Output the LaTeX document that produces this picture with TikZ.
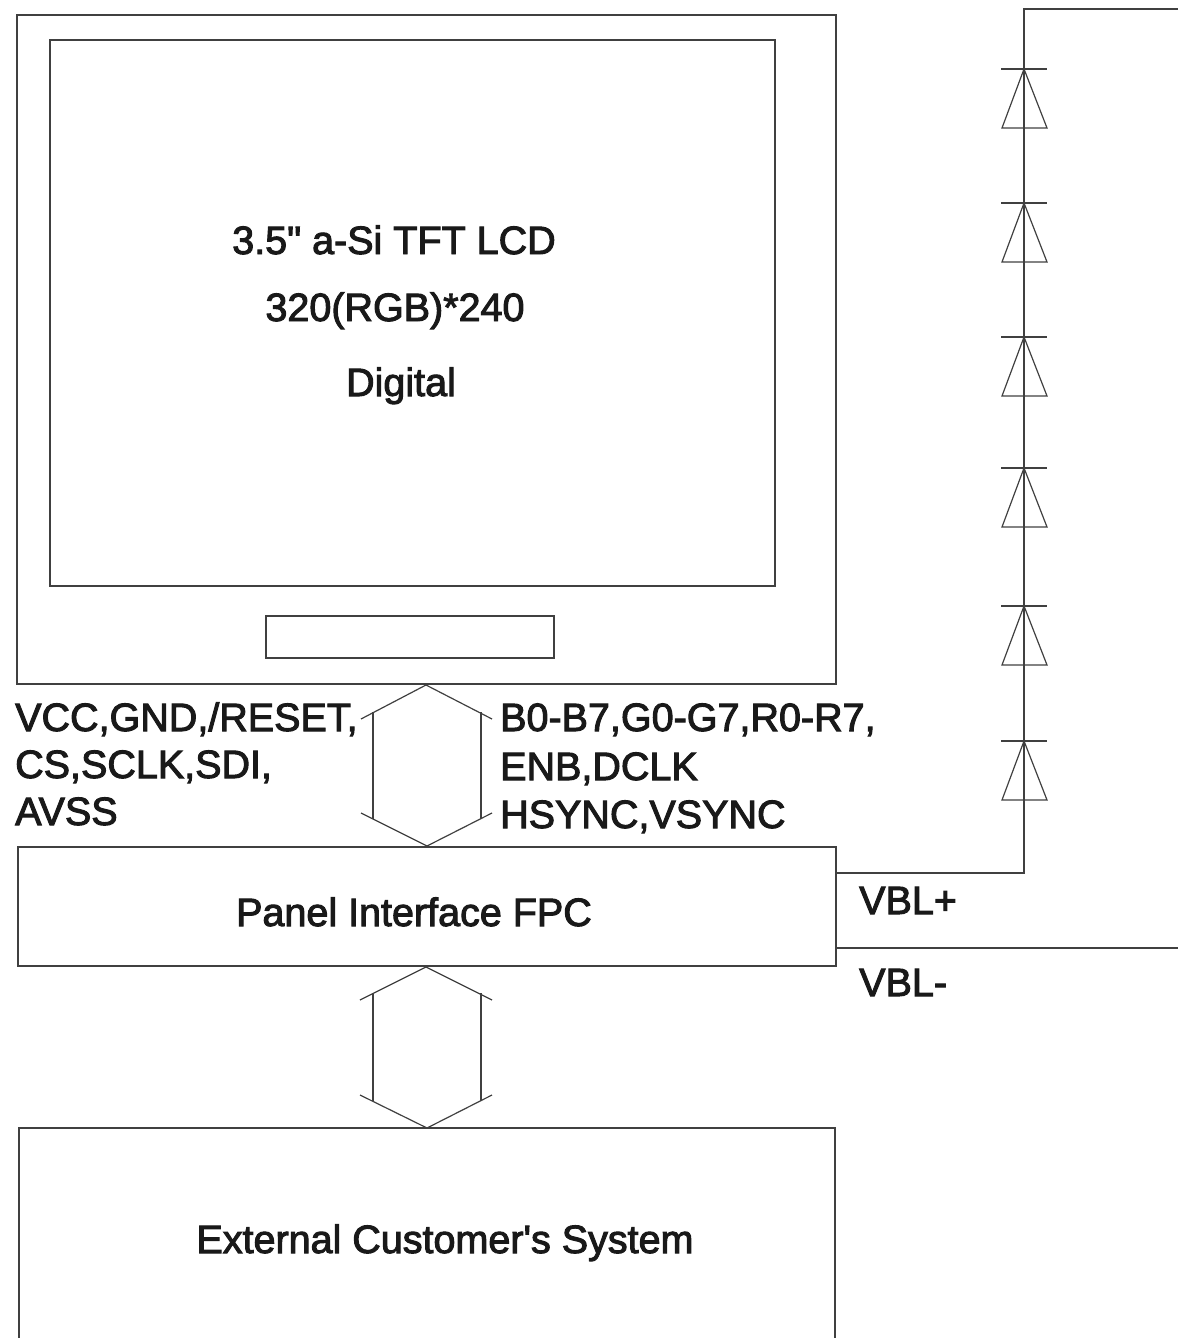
\documentclass[tikz,border=0pt]{standalone}
\usepackage{fontspec}
\newfontfamily\blockfont[FakeBold=2.5]{Liberation Sans}
\tikzset{
  blockbox/.style={draw=black!75,line width=1.2pt,inner sep=0pt},
  wire/.style={draw=black!75,line width=1.2pt},
  label/.style={inner sep=0pt,anchor=base west,font=\blockfont\fontsize{39.5}{39.5}\selectfont,text=black!90},
  title/.style={inner sep=0pt,anchor=base,font=\blockfont\fontsize{39.5}{39.5}\selectfont,text=black!90}
}
\begin{document}
\begin{tikzpicture}[x=1pt,y=-1pt]
    \useasboundingbox (0,0) rectangle (1178,1338);
    % blocks
    \node[blockbox,minimum width=819pt,minimum height=669pt] (LCD) at (426.5,349.5) {};
    \node[blockbox,minimum width=725pt,minimum height=546pt] (AA) at (412.5,313) {};
    \node[blockbox,minimum width=288pt,minimum height=42pt] (IC) at (410,637) {};
    \node[blockbox,minimum width=818pt,minimum height=119pt] (FPC) at (427,906.5) {};
    \node[blockbox,minimum width=816pt,minimum height=224pt] (SYS) at (427,1240) {};
    % texts
    \node[title] (T1) at (394,254) {3.5" a-Si TFT LCD};
    \node[title] (T2) at (395,321) {320(RGB)*240};
    \node[title] (T3) at (401,396) {Digital};
    \node[title] (TF) at (414,926) {Panel Interface FPC};
    \node[title] (TS) at (445,1253) {External Customer's System};
    \node[label] (L1) at (15,731) {VCC,GND,/RESET,};
    \node[label] (L2) at (15,778) {CS,SCLK,SDI,};
    \node[label] (L3) at (15,825) {AVSS};
    \node[label] (R1) at (500,731) {B0-B7,G0-G7,R0-R7,};
    \node[label] (R2) at (500,780) {ENB,DCLK};
    \node[label] (R3) at (500,828) {HSYNC,VSYNC};
    \node[label] (VP) at (859,914) {VBL+};
    \node[label] (VM) at (859,996) {VBL-};
    % upper bus
    \coordinate (A1) at (426,685);
    \coordinate (A2) at (361,719);
    \coordinate (A3) at (492,719);
    \coordinate (A4) at (373,712);
    \coordinate (A5) at (481,712);
    \coordinate (A6) at (361,813);
    \coordinate (A7) at (492,813);
    \coordinate (A8) at (373,819);
    \coordinate (A9) at (481,819);
    \coordinate (A10) at (427,846);
    \draw[wire] (A2) -- (A1) -- (A3);
    \draw[wire] (A4) -- (A8);
    \draw[wire] (A5) -- (A9);
    \draw[wire] (A6) -- (A10) -- (A7);
    % lower bus
    \coordinate (B1) at (426,967);
    \coordinate (B2) at (360,1000);
    \coordinate (B3) at (492,1000);
    \coordinate (B4) at (373,993);
    \coordinate (B5) at (481,993);
    \coordinate (B6) at (360,1095);
    \coordinate (B7) at (492,1095);
    \coordinate (B8) at (373,1101);
    \coordinate (B9) at (481,1101);
    \coordinate (B10) at (427,1128);
    \draw[wire] (B2) -- (B1) -- (B3);
    \draw[wire] (B4) -- (B8);
    \draw[wire] (B5) -- (B9);
    \draw[wire] (B6) -- (B10) -- (B7);
    % backlight
    \coordinate (VA) at (FPC.east |- 0,873);
    \coordinate (VB) at (1024,873);
    \coordinate (VC) at (1024,9);
    \coordinate (VD) at (1178,9);
    \coordinate (VE) at (FPC.east |- 0,948);
    \coordinate (VF) at (1178,948);
    \draw[wire] (VA) -- (VB) -- (VC) -- (VD);
    \draw[wire] (VE) -- (VF);
    \foreach \i/\y in {1/69,2/203,3/337,4/468,5/606,6/741} {
        \coordinate (K\i) at (1024,\y);
        \draw[wire] ([xshift=-23pt]K\i) -- ([xshift=23pt]K\i);
        \draw[wire] (K\i) -- ([xshift=-22pt,yshift=-59pt]K\i) -- ([xshift=23pt,yshift=-59pt]K\i) -- cycle;
    }
\end{tikzpicture}
\end{document}
